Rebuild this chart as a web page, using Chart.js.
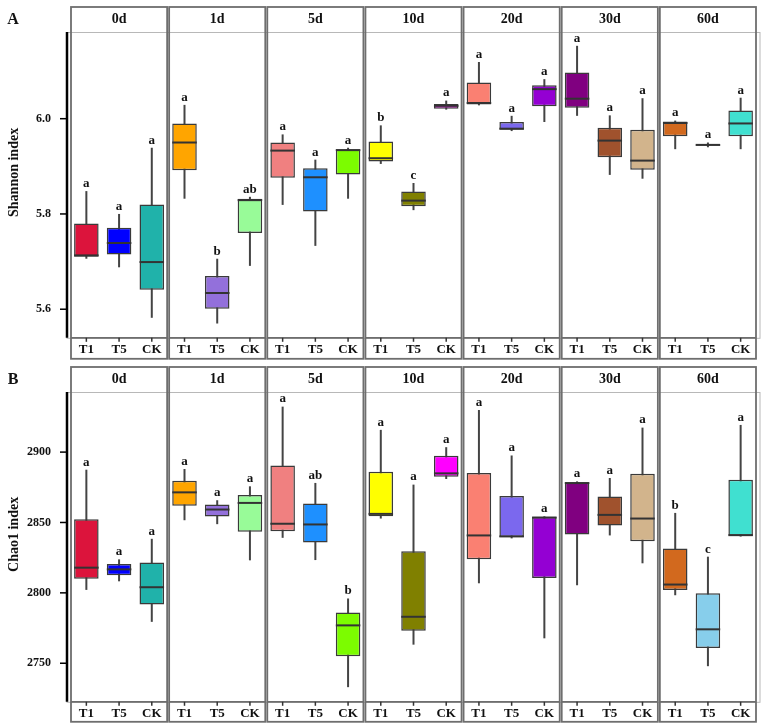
<!DOCTYPE html>
<html><head><meta charset="utf-8">
<script src="https://cdn.jsdelivr.net/npm/chart.js@4.4.1/dist/chart.umd.min.js"></script>
<style>
body{margin:0;background:#fff;width:767px;height:728px;overflow:hidden;position:relative}
.wrap{position:absolute;left:0;width:767px}
</style></head><body>
<div class="wrap" style="top:0;height:364px"><canvas id="c1"></canvas></div>
<div class="wrap" style="top:360px;height:368px"><canvas id="c2"></canvas></div>
<script>
const days = ['0d','1d','5d','10d','20d','30d','60d'];
const groups = ['T1','T5','CK'];
const boxColors = [
  '#DC143C','#0000FF','#20B2AA',
  '#FFA500','#9370DB','#98FB98',
  '#F08080','#1E90FF','#7CFC00',
  '#FFFF00','#808000','#FF00FF',
  '#FA8072','#7B68EE','#9400D3',
  '#800080','#A0522D','#D2B48C',
  '#D2691E','#87CEEB','#40E0D0'
];

// Shannon index (A)
const shannonMin    = [5.706,5.688,5.582, 5.832,5.570,5.691, 5.819,5.733,5.832, 5.905,5.808,6.019, 6.028,5.974,5.993, 6.006,5.882,5.874, 5.936,5.940,5.936];
const shannonQ1     = [5.710,5.715,5.641, 5.892,5.601,5.760, 5.876,5.805,5.883, 5.910,5.816,6.021, 6.030,5.977,6.026, 6.023,5.919,5.893, 5.963,5.943,5.963];
const shannonMedian = [5.713,5.739,5.699, 5.950,5.634,5.829, 5.933,5.877,5.934, 5.917,5.828,6.027, 6.033,5.979,6.062, 6.042,5.954,5.912, 5.991,5.945,5.990];
const shannonQ3     = [5.780,5.771,5.820, 5.990,5.670,5.832, 5.950,5.896,5.936, 5.952,5.847,6.031, 6.076,5.993,6.070, 6.097,5.981,5.977, 5.994,5.946,6.017];
const shannonMax    = [5.848,5.800,5.939, 6.029,5.706,5.836, 5.967,5.914,5.939, 5.986,5.865,6.038, 6.119,6.006,6.083, 6.153,6.007,6.043, 5.996,5.950,6.044];
const shannonLetters = ['a','a','a', 'a','b','ab', 'a','a','a', 'b','c','a', 'a','a','a', 'a','a','a', 'a','a','a'];
const shannonTicks = [5.6, 5.8, 6.0];

// Chao1 index (B)
const chaoMin    = [2802.1,2808.2,2779.4, 2851.6,2848.8,2823.1, 2839.1,2823.3,2733.0, 2852.8,2763.2,2880.9, 2806.8,2838.7,2767.7, 2805.4,2840.8,2821.0, 2798.3,2747.9,2840.0];
const chaoQ1     = [2810.1,2812.5,2791.7, 2861.8,2854.2,2843.4, 2843.8,2835.8,2754.9, 2854.4,2773.1,2882.5, 2823.8,2839.6,2810.6, 2841.5,2847.9,2836.7, 2802.1,2760.8,2840.6];
const chaoMedian = [2817.9,2816.7,2804.0, 2871.4,2859.2,2863.9, 2849.1,2848.6,2776.9, 2856.1,2783.0,2884.9, 2840.8,2840.1,2853.5, 2878.0,2855.4,2852.8, 2805.9,2774.1,2841.0];
const chaoQ3     = [2852.3,2820.5,2821.5, 2879.7,2862.7,2869.6, 2890.5,2863.4,2786.1, 2886.1,2829.5,2897.4, 2885.1,2868.9,2854.0, 2878.5,2868.4,2884.6, 2831.6,2799.7,2880.4];
const chaoMax    = [2887.5,2823.8,2838.4, 2888.0,2865.8,2875.7, 2932.3,2878.1,2796.0, 2915.8,2876.9,2903.5, 2929.9,2897.6,2854.4, 2879.2,2881.6,2917.4, 2856.8,2825.7,2919.3];
const chaoLetters = ['a','a','a', 'a','a','a', 'a','ab','b', 'a','a','a', 'a','a','a', 'a','a','a', 'b','c','a'];
const chaoTicks = [2750, 2800, 2850, 2900];

const SERIF = '"Liberation Serif","Times New Roman",serif';
const labels = days.flatMap(() => groups);

const facetPlugin = {
  id: 'facet',
  beforeDatasetsDraw(chart, args, o) {
    const ctx = chart.ctx, y = chart.scales.y, meta = chart.getDatasetMeta(0);
    ctx.save();
    ctx.strokeStyle = '#444'; ctx.lineWidth = 2;
    meta.data.forEach((el, i) => {
      ctx.beginPath();
      ctx.moveTo(el.x, y.getPixelForValue(o.max[i]));
      ctx.lineTo(el.x, y.getPixelForValue(o.min[i]));
      ctx.stroke();
    });
    ctx.restore();
  },
  afterDatasetsDraw(chart, args, o) {
    const ctx = chart.ctx, y = chart.scales.y, meta = chart.getDatasetMeta(0);
    ctx.save();
    ctx.strokeStyle = '#333'; ctx.lineWidth = 2;
    meta.data.forEach((el, i) => {
      const py = y.getPixelForValue(o.median[i]);
      ctx.beginPath();
      ctx.moveTo(el.x - el.width / 2, py);
      ctx.lineTo(el.x + el.width / 2, py);
      ctx.stroke();
    });
    ctx.fillStyle = '#111';
    ctx.font = 'bold 13px ' + SERIF;
    ctx.textAlign = 'center'; ctx.textBaseline = 'bottom';
    meta.data.forEach((el, i) => {
      ctx.fillText(o.letters[i], el.x, y.getPixelForValue(o.max[i]) - 1);
    });
    ctx.restore();
  },
  afterDraw(chart, args, o) {
    const ctx = chart.ctx, ca = chart.chartArea, xs = chart.scales.x, ys = chart.scales.y;
    const catW = xs.getPixelForTick(1) - xs.getPixelForTick(0);
    const top = ca.top - 25, bot = ca.bottom + o.labelBox;
    ctx.save();
    // light outer plot rectangle
    ctx.strokeStyle = '#b8b8b8'; ctx.lineWidth = 1;
    ctx.strokeRect(ca.left - 3, ca.top + 0.5, ca.right + 3 - (ca.left - 3), ca.bottom - ca.top);
    // panels
    for (let p = 0; p < days.length; p++) {
      const xL = xs.getPixelForTick(3 * p) - catW / 2 + 1;
      const xR = xs.getPixelForTick(3 * p + 2) + catW / 2 - 1;
      ctx.strokeStyle = '#6e6e6e'; ctx.lineWidth = 1.8;
      ctx.strokeRect(xL, top, xR - xL, bot - top);
      ctx.beginPath(); ctx.moveTo(xL, ca.bottom); ctx.lineTo(xR, ca.bottom); ctx.stroke();
      ctx.fillStyle = '#111';
      ctx.font = 'bold 14px ' + SERIF;
      ctx.textAlign = 'center'; ctx.textBaseline = 'middle';
      ctx.fillText(days[p], (xL + xR) / 2, top + 12.5);
    }
    // x tick marks
    ctx.strokeStyle = '#333'; ctx.lineWidth = 1.5;
    for (let i = 0; i < labels.length; i++) {
      const px = xs.getPixelForTick(i);
      ctx.beginPath(); ctx.moveTo(px, ca.bottom); ctx.lineTo(px, ca.bottom + 4); ctx.stroke();
    }
    // y axis line and ticks
    ctx.strokeStyle = '#000'; ctx.lineWidth = 2.5;
    ctx.beginPath(); ctx.moveTo(ca.left - 3, ca.top); ctx.lineTo(ca.left - 3, ca.bottom); ctx.stroke();
    ctx.lineWidth = 1.5;
    ys.ticks.forEach(t => {
      const py = ys.getPixelForValue(t.value);
      ctx.beginPath(); ctx.moveTo(ca.left - 10, py); ctx.lineTo(ca.left - 3, py); ctx.stroke();
    });
    // axis title
    ctx.fillStyle = '#111';
    ctx.font = 'bold 14px ' + SERIF;
    ctx.save();
    ctx.translate(14, (top + ca.bottom) / 2);
    ctx.rotate(-Math.PI / 2);
    ctx.textAlign = 'center'; ctx.textBaseline = 'middle';
    ctx.fillText(o.title, 0, 0);
    ctx.restore();
    // panel tag
    ctx.font = 'bold 16px ' + SERIF;
    ctx.textAlign = 'center'; ctx.textBaseline = 'middle';
    ctx.fillText(o.tag, 13, ca.top - 12);
    ctx.restore();
  }
};

function makeChart(id, st, cfg) {
  new Chart(document.getElementById(id), {
    type: 'bar',
    data: {
      labels: labels,
      datasets: [{
        data: st.q1.map((v, i) => [v, st.q3[i]]),
        backgroundColor: boxColors,
        borderColor: '#3a3a3a',
        borderWidth: 1.5,
        borderSkipped: false,
        barPercentage: 0.75,
        categoryPercentage: 1.0,
        grouped: false
      }]
    },
    options: {
      responsive: true,
      maintainAspectRatio: false,
      animation: false,
      events: [],
      layout: { padding: { top: 32, left: 0, right: 10, bottom: 0 } },
      plugins: {
        legend: { display: false },
        tooltip: { enabled: false },
        facet: { min: st.min, max: st.max, median: st.median, letters: st.letters,
                 title: cfg.title, tag: cfg.tag, labelBox: cfg.labelBox }
      },
      scales: {
        x: {
          type: 'category',
          grid: { display: false, drawTicks: false },
          border: { display: false },
          ticks: { color: '#111', padding: 4, maxRotation: 0, autoSkip: false,
                   font: { family: SERIF, weight: 'bold', size: 13 } },
          afterFit: s => { s.height = cfg.xHeight; }
        },
        y: {
          type: 'linear',
          min: cfg.min, max: cfg.max,
          grid: { display: false, drawTicks: false },
          border: { display: false },
          afterBuildTicks: s => { s.ticks = cfg.ticks.map(v => ({ value: v })); },
          ticks: { color: '#111', padding: 19,
                   font: { family: SERIF, weight: 'bold', size: 12 },
                   callback: cfg.fmt },
          afterFit: s => { s.width = 70; }
        }
      }
    },
    plugins: [facetPlugin]
  });
}

makeChart('c1',
  { min: shannonMin, q1: shannonQ1, median: shannonMedian, q3: shannonQ3, max: shannonMax, letters: shannonLetters },
  { title: 'Shannon index', tag: 'A', min: 5.540, max: 6.182, ticks: shannonTicks,
    fmt: v => Number(v).toFixed(1), xHeight: 22, labelBox: 21 });

makeChart('c2',
  { min: chaoMin, q1: chaoQ1, median: chaoMedian, q3: chaoQ3, max: chaoMax, letters: chaoLetters },
  { title: 'Chao1 index', tag: 'B', min: 2722.6, max: 2942.7, ticks: chaoTicks,
    fmt: v => String(v), xHeight: 25, labelBox: 20 });
</script>
</body></html>
